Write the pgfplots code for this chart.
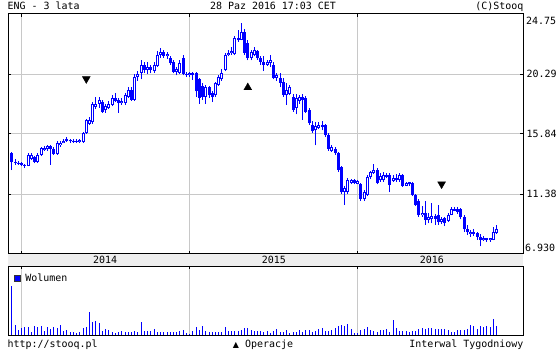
\documentclass[border=0pt]{standalone}
\usepackage{pgfplots}
\pgfplotsset{compat=1.18}
\usepackage{pgfplotstable}
\usepackage{fontspec}
\setmainfont{DejaVu Sans Mono}
\newfontfamily\dejavu{DejaVu Sans}
\definecolor{gridgray}{HTML}{C8C8C8}
\definecolor{bandgray}{HTML}{EEEEEE}
\pgfplotstableread{
i o h l c v
0 14.43 14.50 13.15 13.76 49
1 13.76 13.95 13.55 13.70 10
2 13.70 13.85 13.55 13.72 5
3 13.65 13.75 13.45 13.55 7
4 13.55 13.60 13.30 13.50 8
5 13.50 14.40 13.45 14.28 8
6 14.00 14.45 13.90 14.30 3
7 14.10 14.20 13.65 13.75 9
8 13.75 14.40 13.70 14.30 8
9 14.30 14.90 14.20 14.80 9
10 14.65 14.95 14.60 14.80 4
11 14.75 15.05 14.60 14.95 8
12 14.95 15.05 13.55 14.75 6
13 14.75 14.85 14.30 14.35 8
14 14.35 15.30 14.30 15.20 7
15 15.00 15.30 14.90 15.20 10
16 15.20 15.45 15.15 15.35 4
17 15.35 15.60 15.25 15.45 5
18 15.40 15.50 15.20 15.30 3
19 15.30 15.45 15.20 15.35 3
20 15.35 15.45 15.20 15.30 2
21 15.25 15.45 15.20 15.40 3
22 15.25 16.00 15.20 15.90 7
23 15.90 16.95 15.85 16.85 8
24 16.60 17.10 16.50 16.90 23
25 16.70 18.20 16.60 18.10 13
26 17.85 18.60 17.70 18.10 14
27 18.10 18.60 17.80 18.35 12
28 18.20 18.40 17.40 17.50 4
29 17.60 18.10 17.40 17.90 6
30 17.80 18.30 17.70 18.10 5
31 18.00 18.70 17.90 18.50 3
32 18.50 18.90 18.20 18.30 2
33 18.35 18.50 17.40 18.15 3
34 18.15 18.50 18.00 18.30 4
35 18.15 18.90 18.00 18.75 3
36 18.60 19.30 18.50 19.10 3
37 19.10 19.30 18.30 18.40 3
38 18.40 20.30 18.30 20.10 4
39 20.10 20.50 19.80 20.30 3
40 20.40 21.30 19.90 21.00 13
41 21.00 21.20 20.40 20.60 4
42 20.60 21.20 20.30 20.80 4
43 20.80 21.00 20.35 20.60 4
44 20.50 21.20 20.40 21.00 6
45 20.90 22.00 20.80 21.70 3
46 21.70 22.20 21.50 21.90 3
47 21.95 22.10 21.50 21.65 3
48 21.65 21.95 21.40 21.80 3
49 21.50 21.60 21.00 21.10 3
50 21.20 21.30 20.35 20.45 3
51 20.45 20.80 20.20 20.65 3
52 20.40 21.30 20.30 21.10 4
53 21.45 21.70 20.20 20.30 5
54 20.30 20.45 20.10 20.20 2
55 20.20 20.45 20.10 20.35 1
56 20.35 20.45 19.85 20.20 4
57 20.35 20.45 18.60 19.00 8
58 19.90 20.00 18.10 18.50 5
59 19.40 19.60 18.40 18.60 9
60 18.60 19.50 18.10 19.30 4
61 19.30 19.40 18.50 18.70 3
62 18.90 19.00 18.20 18.60 3
63 18.70 19.70 18.60 19.60 3
64 19.50 20.20 19.40 20.10 3
65 19.90 20.70 19.80 20.40 3
66 20.60 21.85 20.50 21.70 8
67 21.70 22.10 21.60 21.85 4
68 21.85 22.30 21.70 22.00 4
69 21.75 23.10 21.70 23.00 4
70 23.00 23.55 22.70 22.80 4
71 22.85 24.10 22.80 23.40 5
72 23.40 23.60 21.70 21.85 7
73 22.60 22.80 21.30 21.50 7
74 21.50 22.10 21.30 21.90 5
75 21.70 22.30 21.60 22.05 4
76 22.00 22.10 21.35 21.50 4
77 21.50 21.60 21.00 21.20 4
78 21.20 21.60 20.50 21.00 3
79 21.00 21.35 20.90 21.20 4
80 21.10 21.70 20.80 21.30 2.3
81 21.00 21.20 19.90 20.00 4
82 20.00 20.40 19.80 20.20 6.3
83 20.00 20.40 19.30 19.65 3
84 19.70 20.00 18.60 18.75 3.3
85 18.70 19.60 18.00 19.10 5
86 18.80 19.50 18.70 19.30 2.3
87 18.60 18.80 17.50 17.65 3.3
88 17.80 18.80 17.30 18.50 3
89 18.30 18.70 18.10 18.60 5
90 18.60 18.80 16.90 18.35 3.3
91 18.50 18.65 17.40 17.50 5
92 17.60 17.80 16.50 16.65 5
93 16.50 16.80 15.90 16.05 3.3
94 16.10 16.70 15.00 16.40 4.3
95 16.30 16.70 16.20 16.50 6.3
96 16.50 16.80 16.10 16.35 7.3
97 16.50 16.60 15.60 15.80 4
98 15.75 15.90 14.60 14.75 4.3
99 14.55 15.00 14.50 14.85 4.7
100 14.75 14.90 14.30 14.45 7.3
101 14.45 14.50 13.00 13.20 9
102 13.40 13.50 11.40 11.50 10
103 11.55 12.00 10.60 11.80 9.3
104 11.55 12.60 11.40 12.40 11.3
105 12.20 12.50 12.10 12.40 6.3
106 12.40 12.50 12.10 12.20 2.3
107 12.15 12.45 12.10 12.35 2.3
108 12.10 12.20 10.90 11.00 5
109 11.00 11.70 10.85 11.50 5.7
110 11.30 12.80 11.20 12.65 8
111 12.65 13.10 12.50 13.00 5
112 12.95 13.60 12.90 13.15 4.3
113 13.15 13.30 12.10 12.20 3.3
114 12.40 12.95 12.30 12.75 5
115 12.40 13.00 12.30 12.80 4.7
116 12.80 12.95 12.55 12.65 6.3
117 12.80 12.95 11.50 12.05 3.3
118 12.35 12.80 12.30 12.55 15.3
119 12.55 12.85 12.30 12.40 7.3
120 12.45 12.95 12.30 12.80 4
121 12.80 12.90 11.90 12.00 4
122 12.00 12.30 11.95 12.20 4
123 12.25 12.30 12.00 12.10 3
124 12.20 12.30 11.20 11.30 4
125 11.30 11.40 10.50 10.60 4.3
126 10.90 11.00 9.70 9.80 5.7
127 9.80 10.50 9.70 10.00 7.3
128 10.00 10.90 9.10 9.45 6.3
129 9.45 9.95 9.20 9.65 7.3
130 9.50 10.70 9.20 9.75 7.3
131 9.75 9.90 9.10 9.55 5.7
132 9.80 10.60 9.10 9.30 6.3
133 9.30 9.70 9.15 9.50 6.3
134 9.60 9.70 9.00 9.20 5.7
135 9.40 10.00 9.30 9.85 5
136 9.85 10.45 9.80 10.30 3.3
137 10.30 10.40 10.10 10.15 3.3
138 10.30 10.40 9.90 10.05 4.7
139 10.30 10.35 9.50 9.65 5.3
140 9.65 9.80 8.60 8.75 5.3
141 8.80 9.10 8.35 8.60 6.3
142 8.45 8.70 8.20 8.60 10
143 8.60 8.75 8.30 8.45 9
144 8.50 8.60 8.00 8.20 6.3
145 8.20 8.40 7.50 8.00 9
146 7.95 8.30 7.90 8.10 8.3
147 8.10 8.15 7.85 7.95 9.3
148 7.95 8.15 7.85 8.10 7.7
149 8.00 8.90 7.95 8.60 16.3
150 8.50 9.10 8.45 8.75 9
}\candles

\begin{document}
\begin{tikzpicture}[font=\fontsize{10}{12}\selectfont]
\path[use as bounding box] (0bp,0bp) rectangle (560bp,350bp);
\fill[bandgray] (8bp,84bp) rectangle (523bp,96bp);
\node[anchor=base west, inner sep=0] at (7.5bp,340bp) {ENG - 3 lata};
\node[anchor=base, inner sep=0] at (273bp,340bp) {28 Paz 2016 17:03 CET};
\node[anchor=base east, inner sep=0] at (523.5bp,340bp) {(C)Stooq};
\node[anchor=base west, inner sep=0] at (7.5bp,3bp) {http://stooq.pl};
\node[anchor=base, inner sep=0] at (263bp,3bp) {{\dejavu\fontsize{8}{10}\selectfont ▲} Operacje};
\node[anchor=base east, inner sep=0] at (523.5bp,3bp) {Interwal Tygodniowy};

\begin{axis}[
  at={(8bp,96bp)}, anchor=south west, scale only axis,
  width=515bp, height=240bp,
  xmin=-1.238, xmax=158.2, ymin=6.93, ymax=24.75,
  axis line style={black, line width=1bp},
  xtick={2.79,54.8,107.0}, xticklabels={},
  ytick={11.38,15.84,20.29}, yticklabels={11.38,15.84,20.29},
  xmajorgrids, ymajorgrids,
  grid style={gridgray, line width=1bp},
  tick style={black, line width=1bp},
  major tick length=3bp, tick align=inside,
  yticklabel pos=right, ytick pos=both, xtick pos=both,
  yticklabel style={anchor=west, font=\fontsize{10}{12}\selectfont},
  clip=false,
]
\addplot[draw=none, no markers,
  error bars/.cd, y dir=plus, y explicit, error mark=none,
  error bar style={draw=blue, line width=1bp}]
  table[x=i, y=l, y error plus expr={\thisrow{h}-\thisrow{l}}] {\candles};
\addplot[draw=none, no markers,
  error bars/.cd, y dir=plus, y explicit, error mark=none,
  error bar style={draw=blue, line width=3bp}]
  table[x=i, y expr={min(\thisrow{o},\thisrow{c})}, y error plus expr={abs(\thisrow{c}-\thisrow{o})}] {\candles};
\addplot[draw=none, no markers,
  error bars/.cd, y dir=plus, y explicit, error mark=none,
  error bar style={draw=white, line width=1bp}]
  table[x=i, y expr={\thisrow{o}+0.0743}, y error plus expr={max(\thisrow{c}-\thisrow{o}-0.1486,0)}] {\candles};
\addplot[only marks, mark=triangle*, mark size=4.5bp, black] coordinates {(73,19.29)};
\addplot[only marks, mark=triangle*, mark size=4.5bp, black, mark options={rotate=180}] coordinates {(23,19.93) (133,12.12)};
\node[anchor=north west, inner sep=3bp] at (rel axis cs:1,1) {24.75};
\node[anchor=south west, inner sep=2bp] at (rel axis cs:1,0) {6.930};
\node at (axis cs:28.8,6.93) [yshift=-6bp] {2014};
\node at (axis cs:81.1,6.93) [yshift=-6bp] {2015};
\node at (axis cs:130.0,6.93) [yshift=-6bp] {2016};
\end{axis}

\begin{axis}[
  at={(8bp,15bp)}, anchor=south west, scale only axis,
  width=515bp, height=69bp,
  xmin=-1.238, xmax=158.2, ymin=0, ymax=69,
  axis line style={black, line width=1bp},
  xtick={2.79,54.8,107.0}, xticklabels={}, ytick=\empty,
  xmajorgrids, grid style={gridgray, line width=1bp},
  tick style={black, line width=1bp},
  major tick length=3bp, tick align=inside, xtick pos=top,
  legend style={at={(0,1)}, anchor=north west, draw=none, fill=none,
    xshift=5bp, yshift=-5bp,
    inner xsep=1bp, inner ysep=1bp, font=\fontsize{10}{12}\selectfont},
  legend image code/.code={\draw[fill=blue, draw=black!80, line width=0.6bp] (0bp,-3bp) rectangle (6bp,3bp); \path (8.5bp,0bp);},
]
\addplot[ycomb, blue, line width=1bp, mark=none] table[x=i, y=v] {\candles};
\addlegendentry{Wolumen}
\end{axis}
\end{tikzpicture}
\end{document}
